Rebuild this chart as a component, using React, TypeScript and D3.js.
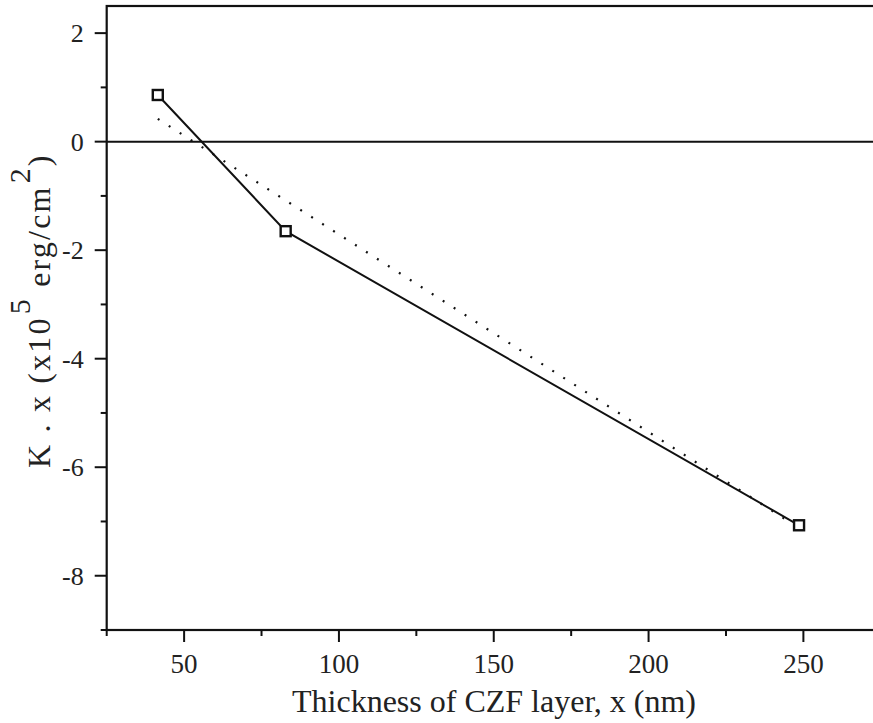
import { useEffect, useRef } from 'react'
import * as d3 from 'd3'

// measured points: thickness (nm) vs K.x (x10^5 erg/cm^2)
const THICKNESS = [41.5, 82.8, 248.6]
const KX = [0.86, -1.65, -7.07]

// linear fit drawn as dotted line, endpoints
const FIT_X = [41.5, 248.6]
const FIT_Y = [0.42, -7.12]

const X_MAJOR = [50, 100, 150, 200, 250]
const X_MINOR = [25, 75, 125, 175, 225, 275]
const Y_MAJOR = [2, 0, -2, -4, -6, -8]
const Y_MINOR = [1, -1, -3, -5, -7, -9]

const W = 873
const H = 723
const FONT = '"Liberation Serif", "Times New Roman", serif'

export default function App() {
  const svgRef = useRef<SVGSVGElement>(null)

  useEffect(() => {
    if (!svgRef.current) return
    const svg = d3.select(svgRef.current)
    svg.selectAll('*').remove()

    const left = 106.7
    const right = 880.8
    const top = 6
    const bottom = 630

    const x = d3.scaleLinear().domain([25, 275]).range([left, right])
    const y = d3.scaleLinear().domain([-9, 2.5]).range([bottom, top])

    // zero reference line
    svg.append('line')
      .attr('x1', left).attr('x2', right)
      .attr('y1', y(0)).attr('y2', y(0))
      .attr('stroke', '#111').attr('stroke-width', 2)

    // frame
    svg.append('rect')
      .attr('x', left).attr('y', top)
      .attr('width', right - left).attr('height', bottom - top)
      .attr('fill', 'none').attr('stroke', '#111').attr('stroke-width', 2.2)

    // x ticks (outward)
    X_MAJOR.forEach((v) => {
      svg.append('line')
        .attr('x1', x(v)).attr('x2', x(v))
        .attr('y1', bottom).attr('y2', bottom + 12)
        .attr('stroke', '#111').attr('stroke-width', 2)
      svg.append('text')
        .attr('x', x(v)).attr('y', bottom + 43)
        .attr('text-anchor', 'middle')
        .style('font-family', FONT).style('font-size', '27px').style('fill', '#222')
        .text(v)
    })
    X_MINOR.forEach((v) => {
      svg.append('line')
        .attr('x1', x(v)).attr('x2', x(v))
        .attr('y1', bottom).attr('y2', bottom + 6)
        .attr('stroke', '#111').attr('stroke-width', 2)
    })

    // y ticks (outward)
    Y_MAJOR.forEach((v) => {
      svg.append('line')
        .attr('x1', left - 12).attr('x2', left)
        .attr('y1', y(v)).attr('y2', y(v))
        .attr('stroke', '#111').attr('stroke-width', 2)
      svg.append('text')
        .attr('x', left - 23).attr('y', y(v) + 9)
        .attr('text-anchor', 'end')
        .style('font-family', FONT).style('font-size', '26px').style('fill', '#222')
        .text(v)
    })
    Y_MINOR.forEach((v) => {
      svg.append('line')
        .attr('x1', left - 6).attr('x2', left)
        .attr('y1', y(v)).attr('y2', y(v))
        .attr('stroke', '#111').attr('stroke-width', 2)
    })

    // dotted fit line
    const fit = FIT_X.map((v, i) => [v, FIT_Y[i]] as [number, number])
    svg.append('path')
      .datum(fit)
      .attr('fill', 'none')
      .attr('stroke', '#111')
      .attr('stroke-width', 2.2)
      .attr('stroke-dasharray', '2 11')
      .attr('d', d3.line<[number, number]>().x((d) => x(d[0])).y((d) => y(d[1])))

    // data line
    const pts = THICKNESS.map((v, i) => [v, KX[i]] as [number, number])
    svg.append('path')
      .datum(pts)
      .attr('fill', 'none')
      .attr('stroke', '#111')
      .attr('stroke-width', 2)
      .attr('d', d3.line<[number, number]>().x((d) => x(d[0])).y((d) => y(d[1])))

    // square markers
    pts.forEach((d) => {
      svg.append('rect')
        .attr('x', x(d[0]) - 5).attr('y', y(d[1]) - 5)
        .attr('width', 10).attr('height', 10)
        .attr('fill', '#fff').attr('stroke', '#111').attr('stroke-width', 2.4)
    })

    // x axis title
    svg.append('text')
      .attr('x', 494).attr('y', 712)
      .attr('text-anchor', 'middle')
      .style('font-family', FONT).style('font-size', '32px').style('fill', '#222')
      .text('Thickness of CZF layer, x (nm)')

    // y axis title
    const yt = svg.append('text')
      .attr('transform', 'translate(50, 468) rotate(-90)')
      .attr('text-anchor', 'start')
      .style('font-family', FONT).style('font-size', '32px').style('fill', '#222')
      .style('letter-spacing', '2.2px')
    yt.append('tspan').text('K . x (x10')
    yt.append('tspan').attr('dy', -20).attr('dx', 2).style('font-size', '30px').text('5')
    yt.append('tspan').attr('dy', 20).text(' erg/cm')
    yt.append('tspan').attr('dy', -20).attr('dx', 2).style('font-size', '30px').text('2')
    yt.append('tspan').attr('dy', 20).text(')')
  }, [])

  return (
    <svg
      ref={svgRef}
      width={W}
      height={H}
      style={{ position: 'absolute', left: 0, top: 0, background: '#fff' }}
    />
  )
}
